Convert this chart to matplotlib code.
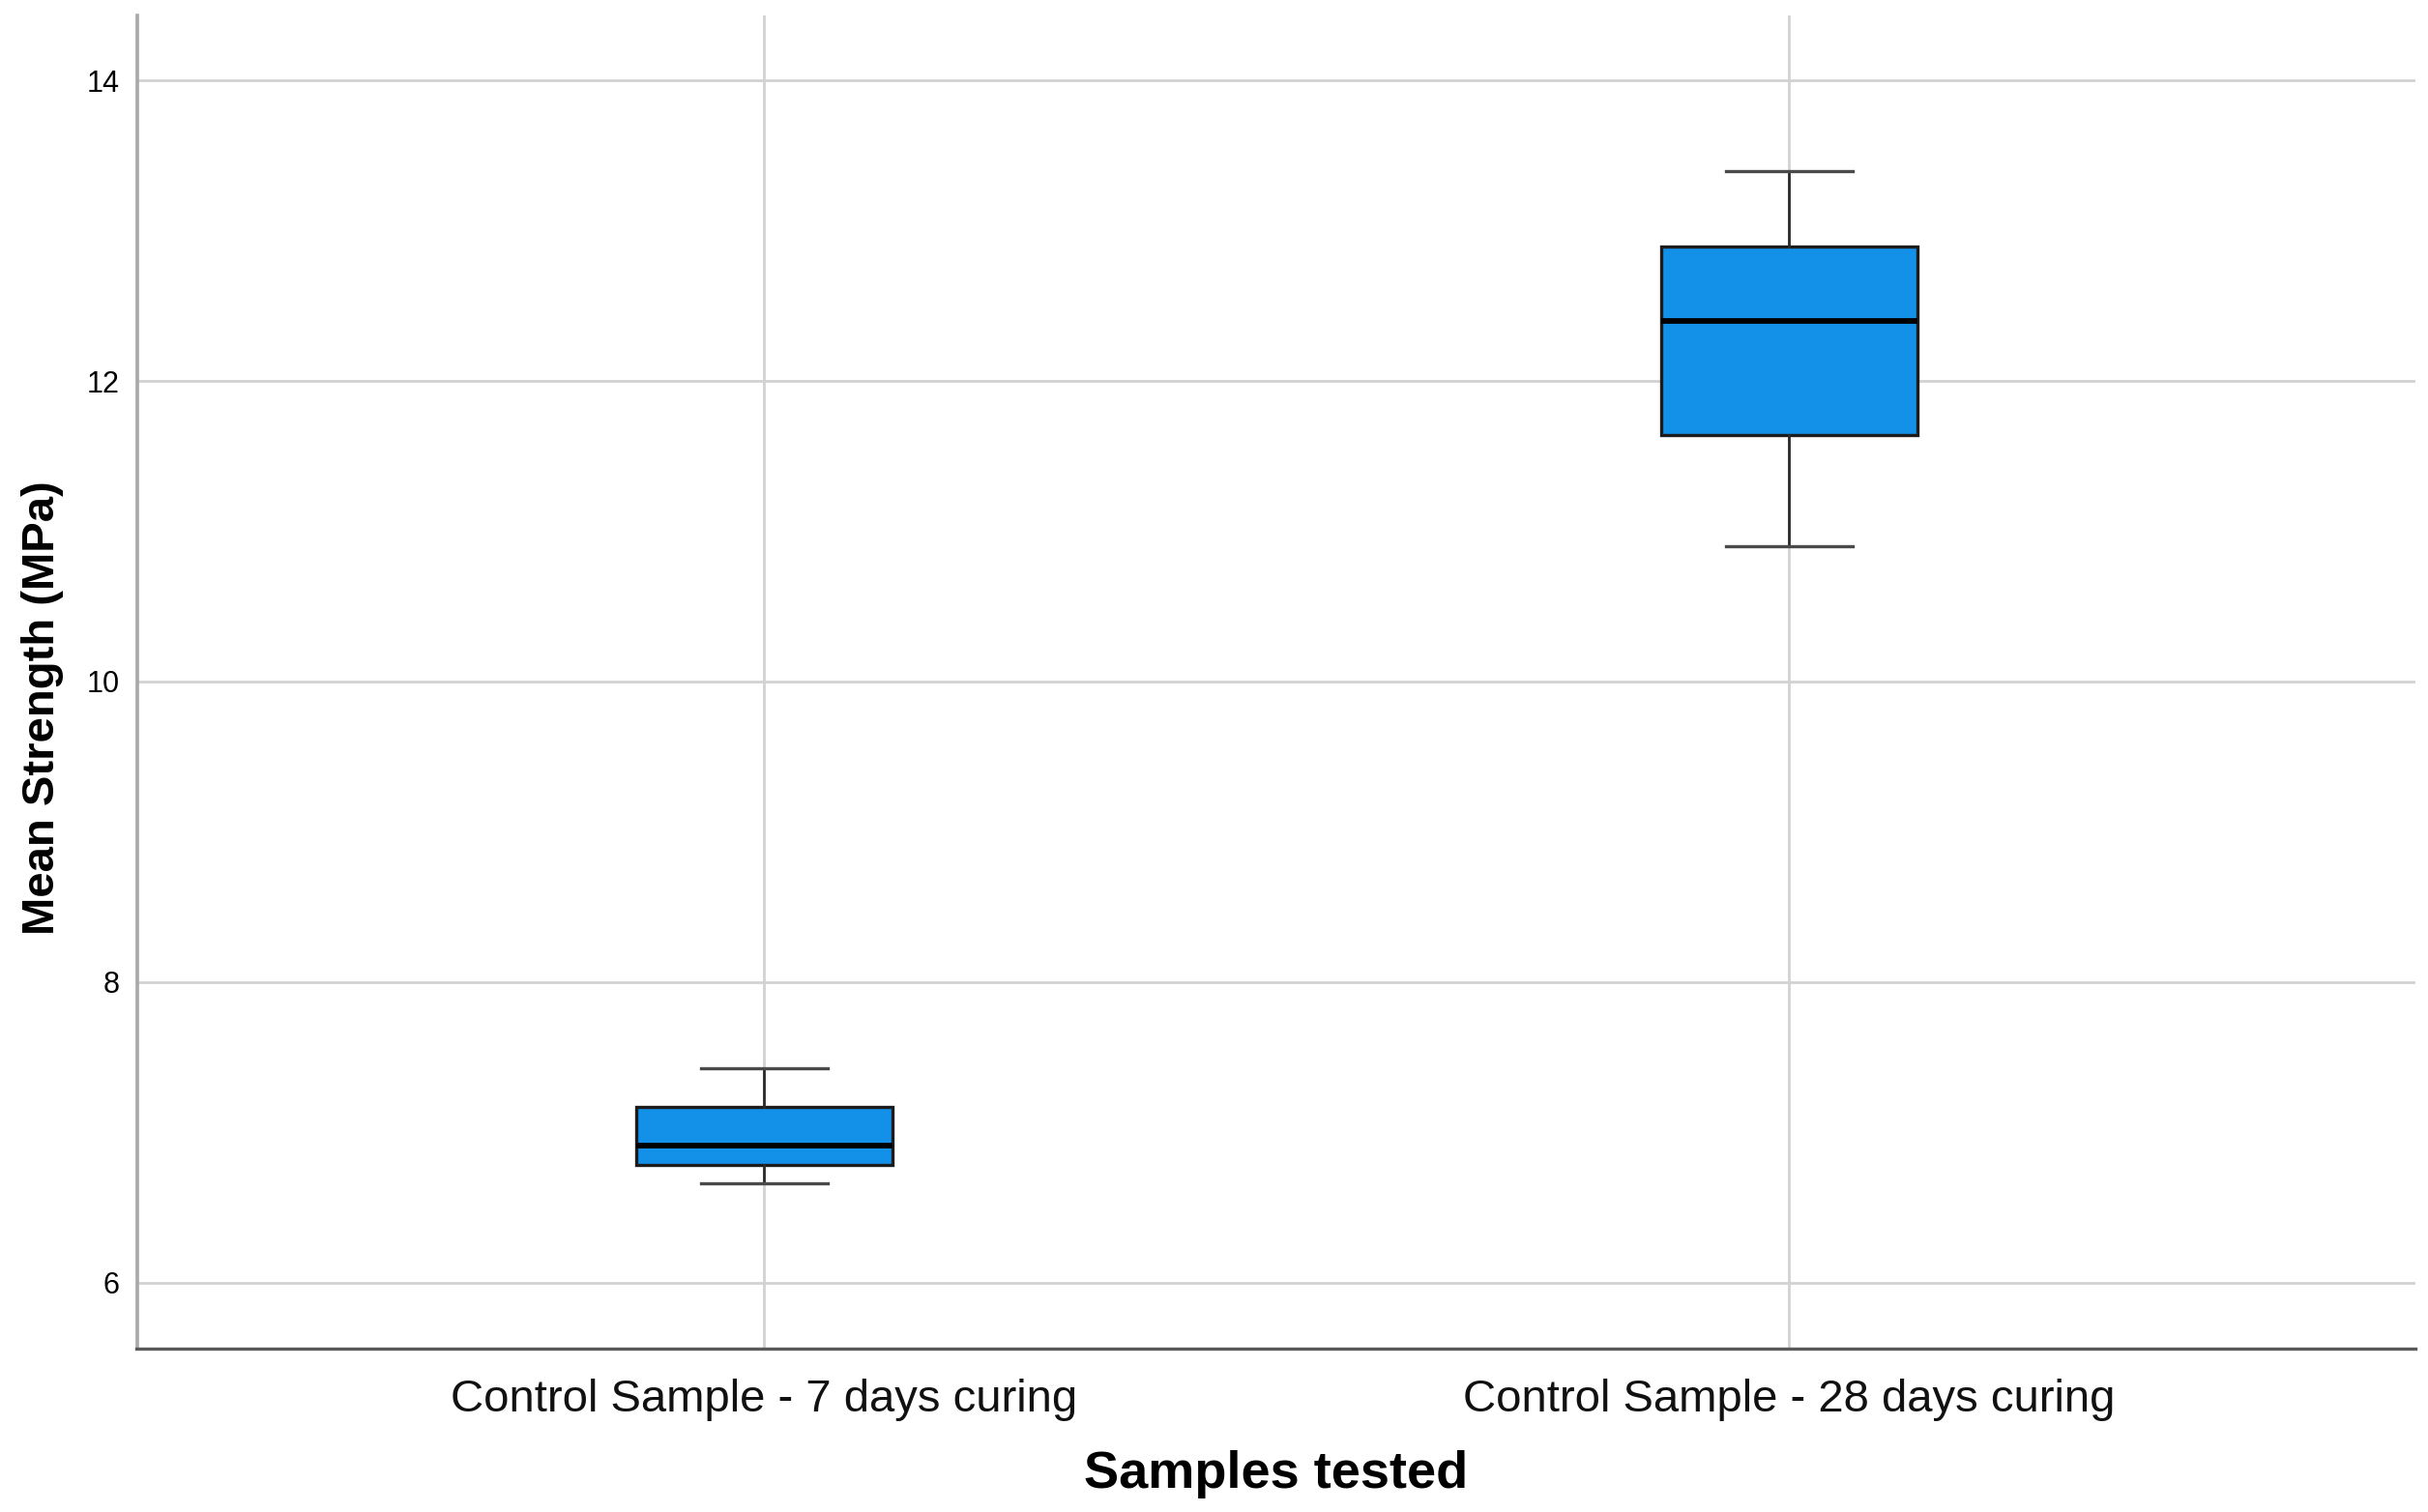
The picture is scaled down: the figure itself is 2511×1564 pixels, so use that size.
import matplotlib
matplotlib.use("Agg")
import matplotlib.pyplot as plt

# --- data (MPa) ---
categories = ["Control Sample - 7 days curing", "Control Sample - 28 days curing"]
whisker_low = [6.663, 10.90]
quartile_1 = [6.783, 11.64]
medians = [6.912, 12.40]
quartile_3 = [7.170, 12.894]
whisker_high = [7.426, 13.40]
y_ticks = [6, 8, 10, 12, 14]

BOX_BLUE = "#1390e8"

plt.rcParams["font.family"] = ["Liberation Sans", "DejaVu Sans"]

fig = plt.figure(figsize=(25.11, 15.64), dpi=100)
ax = fig.add_axes([141.5 / 2511, 1 - 1395 / 1564, (2498 - 141.5) / 2511, (1395 - 16) / 1564])

stats = []
for i, name in enumerate(categories):
    stats.append({
        "label": name,
        "whislo": whisker_low[i],
        "q1": quartile_1[i],
        "med": medians[i],
        "q3": quartile_3[i],
        "whishi": whisker_high[i],
        "fliers": [],
    })

ax.bxp(
    stats,
    positions=range(len(categories)),
    widths=0.25,
    capwidths=0.124,
    patch_artist=True,
    showfliers=False,
    boxprops=dict(facecolor=BOX_BLUE, edgecolor="#1c1c1c", linewidth=2.4),
    medianprops=dict(color="black", linewidth=4.2),
    whiskerprops=dict(color="#2a2a2a", linewidth=2.0),
    capprops=dict(color="#4a4a4a", linewidth=2.4),
    zorder=3,
)

ax.set_xlim(-0.612, 1.611)
ax.set_ylim(5.56, 14.433)
ax.set_yticks(y_ticks)
ax.set_yticklabels([str(t) for t in y_ticks])

ax.grid(True, color="#d2d2d2", linewidth=2.0, zorder=0)
ax.set_axisbelow(True)
ax.tick_params(length=0)
ax.tick_params(axis="y", labelsize=22, pad=13)

ax.set_xticks(range(len(categories)))
ax.set_xticklabels(categories, fontsize=34, color="#111111")
ax.tick_params(axis="x", pad=22)

for side in ("top", "right"):
    ax.spines[side].set_visible(False)
ax.spines["left"].set_color("#a8a8a8")
ax.spines["left"].set_linewidth(2.6)
ax.spines["bottom"].set_color("#5a5a5a")
ax.spines["bottom"].set_linewidth(2.4)

ax.set_ylabel("Mean Strength (MPa)", fontsize=34, fontweight="bold")
ax.yaxis.set_label_coords(-0.032, 0.481)

ax.set_xlabel("Samples tested", fontsize=39, fontweight="bold")
ax.xaxis.set_label_coords(0.5, -0.076)

fig.savefig("out.png", dpi=100, facecolor="white")
